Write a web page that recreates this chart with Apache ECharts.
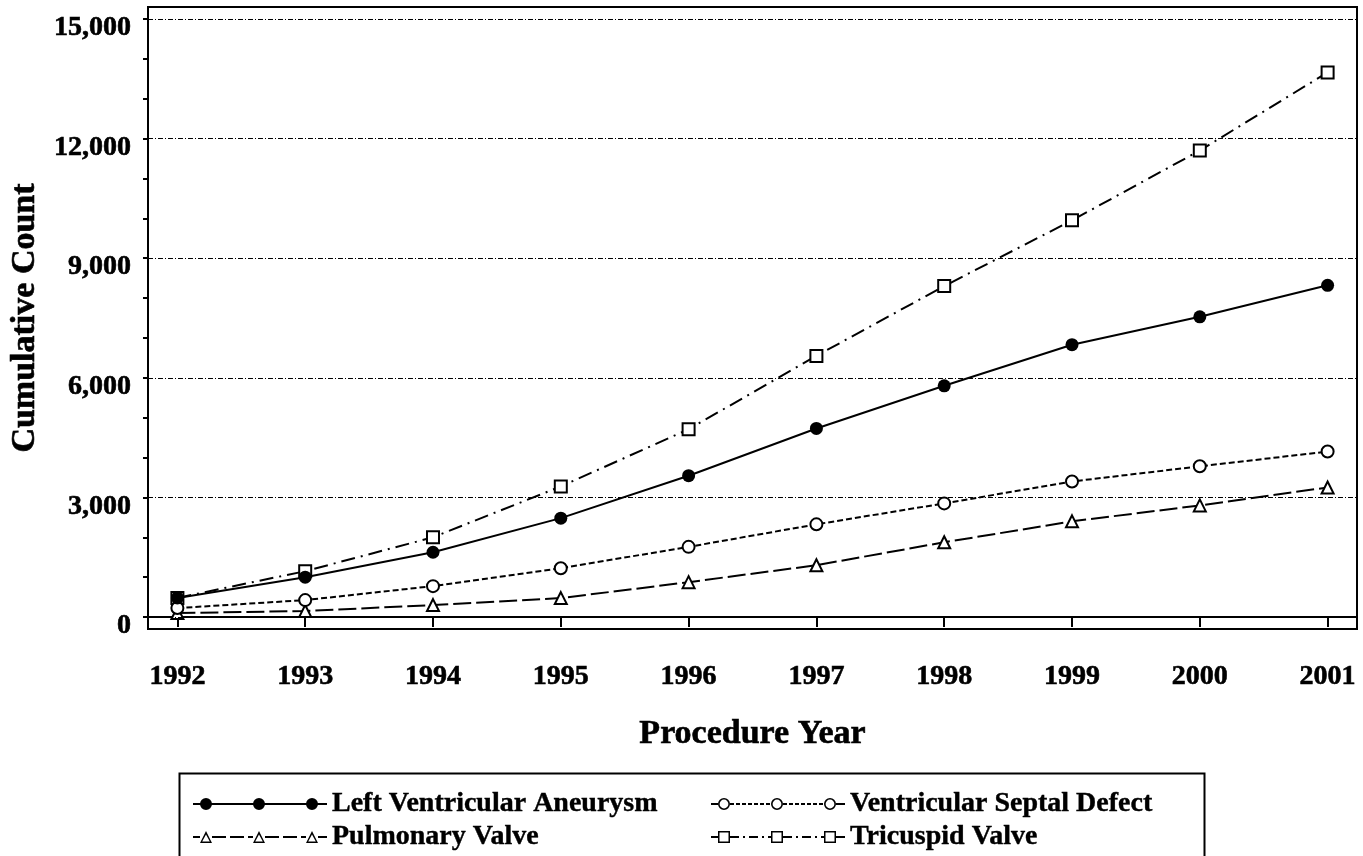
<!DOCTYPE html>
<html>
<head>
<meta charset="utf-8">
<title>Cumulative Count by Procedure Year</title>
<script src="https://cdn.jsdelivr.net/npm/echarts@6/dist/echarts.min.js"></script>
<style>
  html, body { margin: 0; padding: 0; background: #fff; }
  #chart { width: 1363px; height: 856px; }
</style>
</head>
<body>
<div id="chart"></div>
<script>
// data
const years = [1992, 1993, 1994, 1995, 1996, 1997, 1998, 1999, 2000, 2001];
const lvaCounts = [480, 1000, 1625, 2480, 3545, 4730, 5800, 6830, 7530, 8320];
const vsdCounts = [225, 425, 775, 1225, 1760, 2325, 2850, 3400, 3780, 4150];
const pvCounts = [100, 150, 300, 475, 875, 1300, 1875, 2400, 2800, 3250];
const tvCounts = [480, 1150, 2000, 3275, 4710, 6550, 8300, 9950, 11700, 13660];
const yLabelValues = [0, 3000, 6000, 9000, 12000, 15000];
const yTickValues = [0, 1000, 2000, 3000, 4000, 5000, 6000, 7000, 8000, 9000, 10000, 11000, 12000, 13000, 14000, 15000];

const FONT = "'Liberation Serif', 'Times New Roman', serif";
// heavier bold, like the bitmap font of the original
const boldText = { fontFamily: FONT, fontWeight: 'bold', color: '#000', textBorderColor: '#000', textBorderWidth: 0.6 };

// legend icon: line with three markers, built as one filled path
function legendIcon(marker, dash) {
  const W = 134, H = 12, r = 6, cy = 6, lw = 2;
  const cxs = [13, 66, 119];
  let d = '';
  const seg = (x0, x1) => {
    if (x1 - x0 > 0.3) d += `M${x0} ${cy - lw / 2}H${x1}V${cy + lw / 2}H${x0}Z`;
  };
  const dashed = (x0, x1) => {
    if (!dash) { seg(x0, x1); return; }
    let x = x0, i = 0;
    while (x < x1) {
      const len = dash[i % dash.length];
      if (i % 2 === 0) seg(x, Math.min(x + len, x1));
      x += len; i++;
    }
  };
  if (marker === 'circle') {
    seg(0, W);
  } else {
    seg(0, cxs[0] - r);
    dashed(cxs[0] + r, cxs[1] - r);
    dashed(cxs[1] + r, cxs[2] - r);
    seg(cxs[2] + r, W);
  }
  cxs.forEach(cx => {
    if (marker === 'circle' || marker === 'emptyCircle') {
      d += `M${cx - r} ${cy}A${r} ${r} 0 1 1 ${cx + r} ${cy}A${r} ${r} 0 1 1 ${cx - r} ${cy}Z`;
      if (marker === 'emptyCircle') {
        const ri = 4.4;
        d += `M${cx - ri} ${cy}A${ri} ${ri} 0 1 0 ${cx + ri} ${cy}A${ri} ${ri} 0 1 0 ${cx - ri} ${cy}Z`;
      }
    } else if (marker === 'emptyTriangle') {
      d += `M${cx} 0L${cx + r} ${H}L${cx - r} ${H}Z`;
      d += `M${cx} 3.4L${cx - 3.8} ${H - 1.5}L${cx + 3.8} ${H - 1.5}Z`;
    } else if (marker === 'emptyRect') {
      d += `M${cx - r} 0H${cx + r}V${H}H${cx - r}Z`;
      d += `M${cx - r + 1.5} 1.5V${H - 1.5}H${cx + r - 1.5}V1.5Z`;
    }
  });
  return 'path://' + d;
}

const pairs = vals => years.map((y, i) => [y, vals[i]]);

const chart = echarts.init(document.getElementById('chart'));

const legendText = Object.assign({}, boldText, { fontSize: 28, lineHeight: 30, textBorderWidth: 0.4 });

const option = {
  animation: false,
  backgroundColor: '#fff',
  grid: {
    left: 148, right: 6, top: 7, bottom: 227,
    show: true, borderColor: '#000', borderWidth: 2,
    outerBoundsMode: 'none'
  },
  xAxis: {
    type: 'value',
    min: 1991.77,
    max: 2001.23,
    name: 'Procedure Year',
    nameLocation: 'middle',
    nameGap: 88,
    nameTextStyle: Object.assign({}, boldText, { fontSize: 34 }),
    axisLine: { show: true, lineStyle: { color: '#000', width: 2 } },
    axisTick: { show: true, length: 10, lineStyle: { color: '#000', width: 2 }, customValues: years },
    axisLabel: Object.assign({
      customValues: years,
      formatter: v => String(v),
      margin: 34,
      fontSize: 28
    }, boldText),
    splitLine: { show: false }
  },
  yAxis: {
    type: 'value',
    min: -300,
    max: 15300,
    name: 'Cumulative Count',
    nameLocation: 'middle',
    nameRotate: 90,
    nameGap: 102,
    nameTextStyle: Object.assign({}, boldText, { fontSize: 34 }),
    axisLine: { show: true, lineStyle: { color: '#000', width: 2 } },
    axisTick: { show: true, length: 5, lineStyle: { color: '#000', width: 2 }, customValues: yTickValues },
    axisLabel: Object.assign({
      customValues: yLabelValues,
      formatter: v => v.toLocaleString('en-US'),
      margin: 17,
      verticalAlign: 'top',
      lineHeight: 18,
      fontSize: 28
    }, boldText),
    splitLine: { show: false }
  },
  legend: [
    {
      orient: 'vertical', left: 193, top: 789, padding: 0,
      itemWidth: 134, itemHeight: 12, itemGap: 3, selectedMode: false,
      itemStyle: { color: '#000', borderWidth: 0 },
      textStyle: legendText,
      data: [
        { name: 'Left Ventricular Aneurysm', icon: legendIcon('circle', null) },
        { name: 'Pulmonary Valve', icon: legendIcon('emptyTriangle', [14, 4]) }
      ]
    },
    {
      orient: 'vertical', left: 711, top: 789, padding: 0,
      itemWidth: 134, itemHeight: 12, itemGap: 3, selectedMode: false,
      itemStyle: { color: '#000', borderWidth: 0 },
      textStyle: legendText,
      data: [
        { name: 'Ventricular Septal Defect', icon: legendIcon('emptyCircle', [4, 2]) },
        { name: 'Tricuspid Valve', icon: legendIcon('emptyRect', [9, 4, 2, 4]) }
      ]
    }
  ],
  graphic: [
    {
      type: 'rect', left: 177, top: 771, silent: true,
      shape: { width: 1025, height: 110 },
      style: { fill: 'none', stroke: '#000', lineWidth: 2 }
    }
  ],
  series: [
    {
      name: 'Tricuspid Valve', type: 'line', data: pairs(tvCounts),
      symbol: 'emptyRect', symbolSize: 12, color: '#000',
      itemStyle: { color: '#000', borderColor: '#000', borderWidth: 2 },
      lineStyle: { color: '#000', width: 2, type: [14, 6, 2, 6] },
      markLine: {
        silent: true, symbol: 'none', label: { show: false },
        lineStyle: { color: '#000', width: 1, type: [5, 2, 1, 2] },
        data: yLabelValues.map(v => ({ yAxis: v }))
      },
      z: 2
    },
    {
      name: 'Pulmonary Valve', type: 'line', data: pairs(pvCounts),
      symbol: 'emptyTriangle', symbolSize: 12, color: '#000',
      itemStyle: { color: '#000', borderColor: '#000', borderWidth: 2 },
      lineStyle: { color: '#000', width: 2, type: [18, 5] },
      z: 3
    },
    {
      name: 'Ventricular Septal Defect', type: 'line', data: pairs(vsdCounts),
      symbol: 'emptyCircle', symbolSize: 12, color: '#000',
      itemStyle: { color: '#000', borderColor: '#000', borderWidth: 2 },
      lineStyle: { color: '#000', width: 2, type: [6, 3] },
      z: 4
    },
    {
      name: 'Left Ventricular Aneurysm', type: 'line', data: pairs(lvaCounts),
      symbol: 'circle', symbolSize: 13, color: '#000',
      itemStyle: { color: '#000' },
      lineStyle: { color: '#000', width: 2, type: 'solid' },
      z: 5
    }
  ]
};

chart.setOption(option);
</script>
</body>
</html>
